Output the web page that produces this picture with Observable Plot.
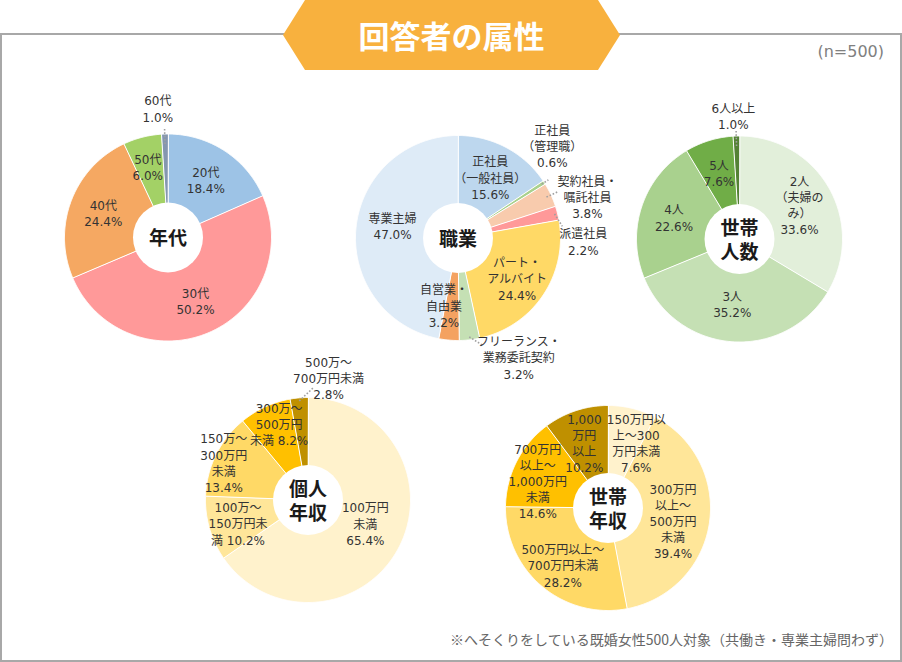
<!DOCTYPE html>
<html lang="ja"><head><meta charset="utf-8">
<script src="https://cdn.jsdelivr.net/npm/d3@7"></script>
<script src="https://cdn.jsdelivr.net/npm/@observablehq/plot@0.6"></script>
<style>
html,body{margin:0;padding:0;background:#fff;}
#wrap{position:relative;width:902px;height:662px;overflow:hidden;font-family:"DejaVu Sans","Noto Sans CJK JP",sans-serif;}
#frame{position:absolute;left:0;top:33px;width:898px;height:625px;border:2px solid #a8a8a8;}
#chart{position:absolute;left:0;top:0;}
#banner{position:absolute;left:283px;top:0;width:337px;height:70px;background:#f8b13e;clip-path:polygon(22px 0,315px 0,337px 35px,315px 70px,22px 70px,0 35px);}
#title{position:absolute;left:283px;top:0;width:337px;height:70px;line-height:70px;text-align:center;color:#fff;font-weight:bold;font-size:31px;font-family:"Noto Sans CJK JP",sans-serif;}
#n{position:absolute;right:18px;top:42px;font-size:16px;color:#808080;}
#note{position:absolute;right:9px;top:629px;font-size:14px;color:#666;font-family:"Noto Sans CJK JP",sans-serif;}
</style></head>
<body>
<div id="wrap">
  <div id="frame"></div>
  <div id="chart"></div>
  <div id="banner"></div>
  <div id="title">回答者の属性</div>
  <div id="n">(n=500)</div>
  <div id="note">※へそくりをしている既婚女性500人対象（共働き・専業主婦問わず）</div>
</div>
<script>
// ---- data ----
const ageCats = ["20代", "30代", "40代", "50代", "60代"];
const ageVals = [18.4, 50.2, 24.4, 6.0, 1.0];
const ageColors = ["#9dc3e6", "#ff9999", "#f5a862", "#a3d166", "#8497b0"];

const jobCats = ["正社員\n（一般社員）", "正社員\n（管理職）", "契約社員・\n嘱託社員", "派遣社員", "パート・\nアルバイト", "フリーランス・\n業務委託契約", "自営業・\n自由業", "専業主婦"];
const jobVals = [15.6, 0.6, 3.8, 2.2, 24.4, 3.2, 3.2, 47.0];
const jobColors = ["#bdd7ee", "#a9d18e", "#f8cbad", "#ff9999", "#ffd966", "#c5e0b4", "#f4a261", "#deebf7"];

const hhCats = ["2人\n（夫婦の\nみ）", "3人", "4人", "5人", "6人以上"];
const hhVals = [33.6, 35.2, 22.6, 7.6, 1.0];
const hhColors = ["#e2efda", "#c5e0b4", "#a9d18e", "#70ad47", "#548235"];

const pinCats = ["100万円\n未満", "100万～\n150万円未\n満", "150万～\n300万円\n未満", "300万～\n500万円\n未満", "500万～\n700万円未満"];
const pinVals = [65.4, 10.2, 13.4, 8.2, 2.8];
const pinColors = ["#fff2cc", "#ffe699", "#ffd966", "#ffc000", "#bf9000"];

const hinCats = ["150万円以\n上～300\n万円未満", "300万円\n以上～\n500万円\n未満", "500万円以上～\n700万円未満", "700万円\n以上～\n1,000万円\n未満", "1,000\n万円\n以上"];
const hinVals = [7.6, 39.4, 28.2, 14.6, 10.2];
const hinColors = ["#fff2cc", "#ffe699", "#ffd966", "#ffc000", "#bf9000"];

// ---- layout ----
const HOLE = 35;
const charts = [
  {key: "age", title: "年代", cats: ageCats, vals: ageVals, colors: ageColors, cx: 167.5, cy: 237, r: 103.5},
  {key: "job", title: "職業", cats: jobCats, vals: jobVals, colors: jobColors, cx: 457.5, cy: 237.5, r: 102.5},
  {key: "hh", title: "世帯\n人数", cats: hhCats, vals: hhVals, colors: hhColors, cx: 739, cy: 238.5, r: 103},
  {key: "pin", title: "個人\n年収", cats: pinCats, vals: pinVals, colors: pinColors, cx: 307.5, cy: 499.5, r: 102.5},
  {key: "hin", title: "世帯\n年収", cats: hinCats, vals: hinVals, colors: hinColors, cx: 607.5, cy: 507.5, r: 102.5}
];
const inlinePct = new Set(["pin1", "pin3"]);
const nudge = {
  age3: [-3, -4], age4: [-8, -60],
  job1: [36.5, -55], job2: [67, -12.5], job3: [58.6, 20], job4: [2, 2], job5: [53, 51], job6: [-8, -1], job7: [3, -6],
  hh1: [-2, -4], hh4: [-4, -54.5],
  pin0: [-3.5, -8.5], pin1: [-4, 4], pin2: [-22.6, -7], pin3: [0, -14], pin4: [26.6, -54],
  hin0: [12, 1.5], hin1: [-3, 3], hin2: [-1, 4.5], hin3: [-9, 4], hin4: [-2, 0]
};
const leaderSpec = {
  age4: {r0: -10, r1: 5},
  job1: {r0: -3, r1: 5},
  job2: {r0: -5, r1: 8},
  job3: {r0: -3, to: [-21, -15]},
  job5: {r0: -3, to: [-36, -12]},
  hh4: {r0: -10, r1: 5},
  pin4: {r0: -3, to: [-15, 10]}
};

function polar(cx, cy, rad, pct) {
  const a = pct / 100 * 2 * Math.PI;
  return [cx + rad * Math.sin(a), cy - rad * Math.cos(a)];
}

const wedgePts = [], labels = [], leaders = [];
for (const ch of charts) {
  let cum = 0;
  ch.vals.forEach((v, i) => {
    const a0 = cum, a1 = cum + v; cum = a1;
    const id = ch.key + i;
    const color = ch.colors[i];
    wedgePts.push({id, color, x: ch.cx, y: ch.cy});
    const n = Math.max(2, Math.ceil(v * 3.6 * 2));
    for (let k = 0; k <= n; k++) {
      const [x, y] = polar(ch.cx, ch.cy, ch.r, a0 + (a1 - a0) * k / n);
      wedgePts.push({id, color, x, y});
    }
    const mid = (a0 + a1) / 2;
    const [nx, ny] = nudge[id] || [0, 0];
    const [lx, ly] = polar(ch.cx, ch.cy, (ch.r + HOLE) / 2, mid);
    const lab = {x: lx + nx, y: ly + ny, text: ch.cats[i] + (inlinePct.has(id) ? " " : "\n") + v.toFixed(1) + "%"};
    labels.push(lab);
    const ls = leaderSpec[id];
    if (ls) {
      const [x1, y1] = polar(ch.cx, ch.cy, ch.r + ls.r0, mid);
      let x2, y2;
      if (ls.to) { x2 = lab.x + ls.to[0]; y2 = lab.y + ls.to[1]; }
      else { [x2, y2] = polar(ch.cx, ch.cy, ch.r + ls.r1, mid); }
      leaders.push({x1, y1, x2, y2});
    }
  });
}

const plot = Plot.plot({
  width: 902, height: 662, margin: 0,
  style: {background: "transparent", fontFamily: "'DejaVu Sans','Noto Sans CJK JP',sans-serif"},
  x: {domain: [0, 902], range: [0, 902], axis: null},
  y: {domain: [0, 662], range: [0, 662], axis: null},
  marks: [
    Plot.line(wedgePts, {x: "x", y: "y", z: "id", fill: "color", stroke: "white", strokeWidth: 1, curve: "linear-closed"}),
    Plot.dot(charts, {x: "cx", y: "cy", r: HOLE, fill: "white", stroke: null}),
    Plot.link(leaders, {x1: "x1", y1: "y1", x2: "x2", y2: "y2", stroke: "#a0a0a0", strokeWidth: 1.6, strokeDasharray: "1.6 1.8"}),
    Plot.text(labels, {x: "x", y: "y", text: "text", fontSize: 12, lineHeight: 1.35, fill: "#333"}),
    Plot.text(charts, {x: "cx", y: "cy", text: "title", fontSize: 19, fontWeight: "bold", lineHeight: 1.3, fill: "#1a1a1a", fontFamily: "'Noto Sans CJK JP',sans-serif"})
  ]
});
document.getElementById("chart").appendChild(plot);
</script>
</body></html>
